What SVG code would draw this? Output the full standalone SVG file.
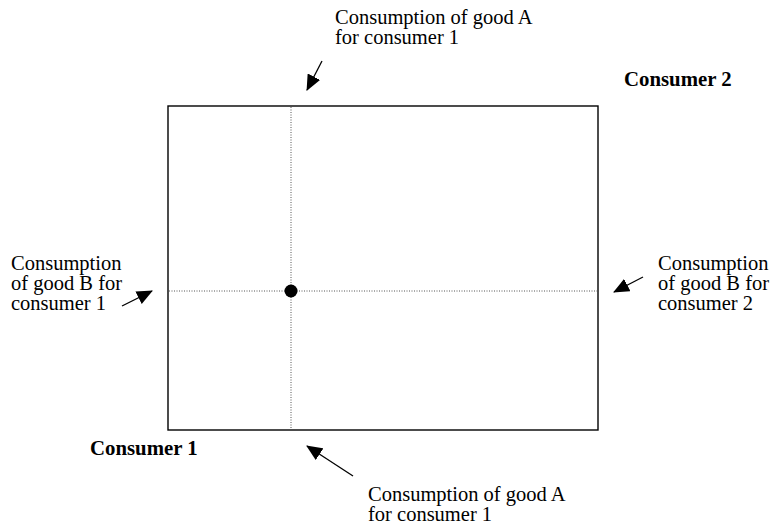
<svg xmlns="http://www.w3.org/2000/svg" width="770" height="532" viewBox="0 0 770 532">
<style>
.lbl{font-family:"Liberation Serif","Times New Roman",serif;font-size:20.5px;fill:#000}
.bold{font-weight:bold;font-size:20.8px}
.dot{stroke:#555;stroke-width:1;stroke-dasharray:1,1.5;fill:none}
.arr{stroke:#000;stroke-width:1.3;fill:none;marker-end:url(#ah)}
</style>
<defs>
<marker id="ah" markerUnits="userSpaceOnUse" markerWidth="16" markerHeight="14" viewBox="0 0 16 14" refX="15" refY="7" orient="auto">
<path d="M0,0 L16,7 L0,14 z" fill="#000"/>
</marker>
</defs>
<rect width="770" height="532" fill="#fff"/>
<g id="edgebox">
<rect x="168" y="106" width="430" height="324" fill="none" stroke="#000" stroke-width="1.4"/>
</g>
<g id="guides">
<line class="dot" x1="291" y1="107" x2="291" y2="429"/>
<line class="dot" x1="169" y1="291" x2="597" y2="291"/>
</g>
<g id="allocation">
<circle cx="291" cy="291" r="6.5" fill="#000"/>
</g>
<g id="consumer2">
<text class="lbl bold" x="624" y="86">Consumer 2</text>
</g>
<g id="consumer1">
<text class="lbl bold" x="90" y="455">Consumer 1</text>
</g>
<g id="label-top">
<text class="lbl" x="335" y="24">Consumption of good A</text>
<text class="lbl" x="335" y="44">for consumer 1</text>
</g>
<g id="label-left">
<text class="lbl" x="11" y="270">Consumption</text>
<text class="lbl" x="11" y="290">of good B for</text>
<text class="lbl" x="11" y="310">consumer 1</text>
</g>
<g id="label-right">
<text class="lbl" x="658" y="270">Consumption</text>
<text class="lbl" x="658" y="290">of good B for</text>
<text class="lbl" x="658" y="310">consumer 2</text>
</g>
<g id="label-bottom">
<text class="lbl" x="368" y="501">Consumption of good A</text>
<text class="lbl" x="368" y="521">for consumer 1</text>
</g>
<g id="connectors">
<line class="arr" x1="322" y1="61" x2="307" y2="90"/>
<line class="arr" x1="122" y1="306" x2="152" y2="291"/>
<line class="arr" x1="643" y1="277" x2="614" y2="292"/>
<line class="arr" x1="353" y1="476" x2="307" y2="446"/>
</g>
</svg>
